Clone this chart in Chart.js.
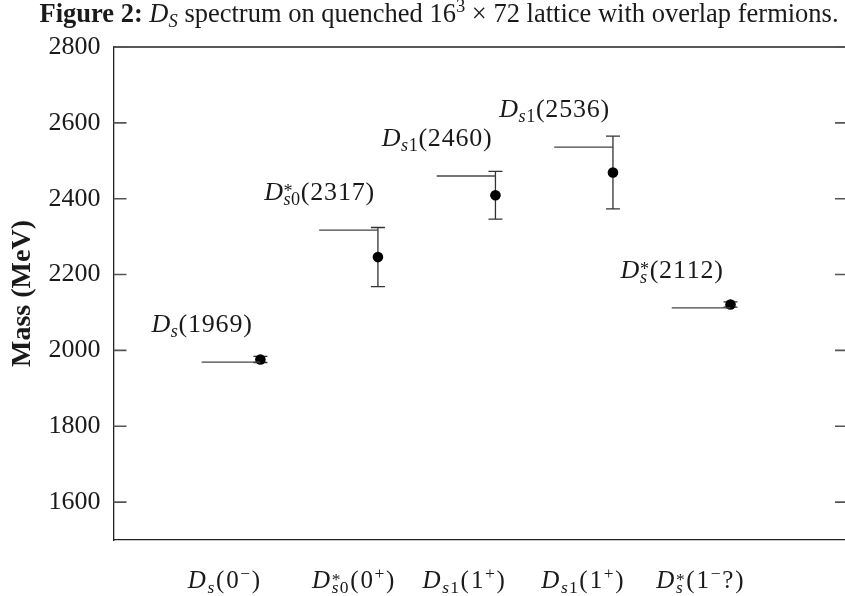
<!DOCTYPE html>
<html>
<head>
<meta charset="utf-8">
<script src="https://cdn.jsdelivr.net/npm/chart.js@4/dist/chart.umd.min.js"></script>
<style>
  html, body { margin:0; padding:0; background:#fff; overflow:hidden; }
  #wrap { width:860px; height:596px; }
</style>
</head>
<body>
<div id="wrap"><canvas id="spec" width="860" height="596"></canvas></div>
<script>
// ---------- data ----------
const stateNames = ["D_{s}(0^{-})", "D_{s0}^{*}(0^{+})", "D_{s1}(1^{+})", "D_{s1}(1^{+})", "D_{s}^{*}(1^{-}?)"];
const stateX = [0.69, 1.79, 2.73, 3.74, 4.74];

const expNames = ["D_{s}(1969)", "D_{s0}^{*}(2317)", "D_{s1}(2460)", "D_{s1}(2536)", "D_{s}^{*}(2112)"];
const expMass = [1969, 2317, 2460, 2536, 2112];

const latX = [1, 2, 3, 4, 5];
const latMass = [1976, 2246, 2409, 2469, 2121];
const latErr = [8, 78, 63, 96, 7];

const yTicks = [1600, 1800, 2000, 2200, 2400, 2600, 2800];

const titleRuns = [
  { t: "Figure 2:", f: "bold" },
  { t: " " },
  { t: "D", f: "italic" },
  { sub: [{ t: "S", f: "italic" }] },
  { t: " spectrum on quenched 16" },
  { sup: [{ t: "3" }] },
  { t: " \u00d7 72 lattice with overlap fermions." }
];

const SERIF = '"Liberation Serif", "Times New Roman", serif';
const INK = "#1a1a1a";

// ---------- tiny math-text renderer ----------
function tokens(str){
  return [...str].map(ch => ({
    t: ch === "-" ? "\u2212" : ch,
    f: /[A-Za-z]/.test(ch) ? "italic" : "normal"
  }));
}

function parseMath(src){
  const out = [];
  let i = 0;
  while(i < src.length){
    const c = src[i];
    if((c === "_" || c === "^") && src[i+1] === "{"){
      const grp = {};
      while((src[i] === "_" || src[i] === "^") && src[i+1] === "{"){
        const end = src.indexOf("}", i);
        grp[src[i] === "_" ? "sub" : "sup"] = tokens(src.slice(i+2, end));
        i = end + 1;
      }
      out.push(grp);
    } else {
      out.push(...tokens(c));
      i++;
    }
  }
  return out;
}

// math fonts are wider than Times, so a little tracking is added per glyph
function drawRuns(ctx, runs, x, y, size, draw, track){
  let cx = x;
  for(const r of runs){
    if(r.sub || r.sup){
      const a = r.sub ? drawRuns(ctx, r.sub, cx, y + size*0.2, size*0.7, draw, track*0.6) : 0;
      const up = r.sup && r.sup[0].t === "*" ? 0.13 : 0.38;
      const b = r.sup ? drawRuns(ctx, r.sup, cx, y - size*up, size*0.7, draw, track*0.6) : 0;
      cx += Math.max(a, b);
    } else {
      ctx.font = `${r.f || "normal"} ${size}px ${SERIF}`;
      if(draw) ctx.fillText(r.t, cx + track/2, y);
      cx += ctx.measureText(r.t).width + track;
    }
  }
  return cx - x;
}

function drawCentered(ctx, runs, cx, y, size, track = 0){
  ctx.textAlign = "left";
  ctx.textBaseline = "alphabetic";
  const w = drawRuns(ctx, runs, 0, y, size, false, track);
  drawRuns(ctx, runs, cx - w/2, y, size, true, track);
}

// ---------- extras: error bars, frame, labels ----------
const decor = {
  id: "decor",
  beforeDatasetsDraw(chart){
    const { ctx, scales:{ x, y } } = chart;
    ctx.save();
    ctx.strokeStyle = "#333";
    ctx.lineWidth = 1.3;
    latX.forEach((v, i) => {
      const px = x.getPixelForValue(v);
      const top = y.getPixelForValue(latMass[i] + latErr[i]);
      const bot = y.getPixelForValue(latMass[i] - latErr[i]);
      ctx.beginPath();
      ctx.moveTo(px, top); ctx.lineTo(px, bot);
      ctx.moveTo(px - 7, top); ctx.lineTo(px + 7, top);
      ctx.moveTo(px - 7, bot); ctx.lineTo(px + 7, bot);
      ctx.stroke();
    });
    ctx.restore();
  },
  afterDraw(chart){
    const { ctx, chartArea:a, scales:{ x, y } } = chart;
    ctx.save();

    // top frame line
    ctx.strokeStyle = "#222";
    ctx.lineWidth = 1.3;
    ctx.beginPath();
    ctx.moveTo(a.left, a.top); ctx.lineTo(a.right, a.top);
    ctx.stroke();

    // inward ticks, both sides
    ctx.strokeStyle = "#555";
    ctx.lineWidth = 1.6;
    yTicks.forEach(v => {
      const py = y.getPixelForValue(v);
      ctx.beginPath();
      ctx.moveTo(a.left, py); ctx.lineTo(a.left + 13, py);
      ctx.moveTo(a.right - 13, py); ctx.lineTo(a.right, py);
      ctx.stroke();
    });

    ctx.fillStyle = INK;

    // experimental state names above the reference lines
    expNames.forEach((s, i) => {
      const px = x.getPixelForValue(latX[i] - 0.5);
      const py = y.getPixelForValue(expMass[i]) - 30;
      drawCentered(ctx, parseMath(s), px, py, 26, 0.8);
    });

    // quantum-number labels under the axis
    stateNames.forEach((s, i) => {
      drawCentered(ctx, parseMath(s), x.getPixelForValue(stateX[i]), a.bottom + 48, 25, 2);
    });

    // caption
    drawCentered(ctx, titleRuns, 439, 22, 26.5);
    ctx.restore();
  }
};

// ---------- chart ----------
const expSets = expMass.map((m, i) => ({
  data: [{ x: latX[i] - 0.5, y: m }, { x: latX[i], y: m }],
  showLine: true,
  borderColor: "#444",
  borderWidth: 1.4,
  pointRadius: 0
}));

const latSet = {
  data: latX.map((v, i) => ({ x: v, y: latMass[i] })),
  backgroundColor: "#000",
  borderWidth: 0,
  pointRadius: 5.3
};

new Chart(document.getElementById("spec"), {
  type: "scatter",
  data: { datasets: [...expSets, latSet] },
  options: {
    responsive: false,
    animation: false,
    devicePixelRatio: 1,
    layout: { padding: { top: 47, right: 12, bottom: 56, left: 0 } },
    plugins: { legend: { display: false }, tooltip: { enabled: false } },
    scales: {
      x: {
        type: "linear",
        min: -0.25,
        max: 6,
        ticks: { display: false },
        grid: { display: false, drawTicks: false },
        border: { color: "#222", width: 1.3 }
      },
      y: {
        min: 1500,
        max: 2800,
        afterBuildTicks: axis => { axis.ticks = yTicks.map(v => ({ value: v })); },
        afterFit: axis => { axis.width = 113.5; },
        ticks: { font: { family: SERIF, size: 26 }, color: INK, padding: 13, callback: v => String(v) },
        grid: { display: false, drawTicks: false },
        border: { color: "#222", width: 1.3 },
        title: {
          display: true,
          text: "Mass (MeV)",
          color: INK,
          font: { family: SERIF, size: 28, weight: "bold" },
          padding: { top: 6, bottom: 0 }
        }
      }
    }
  },
  plugins: [decor]
});
</script>
</body>
</html>
